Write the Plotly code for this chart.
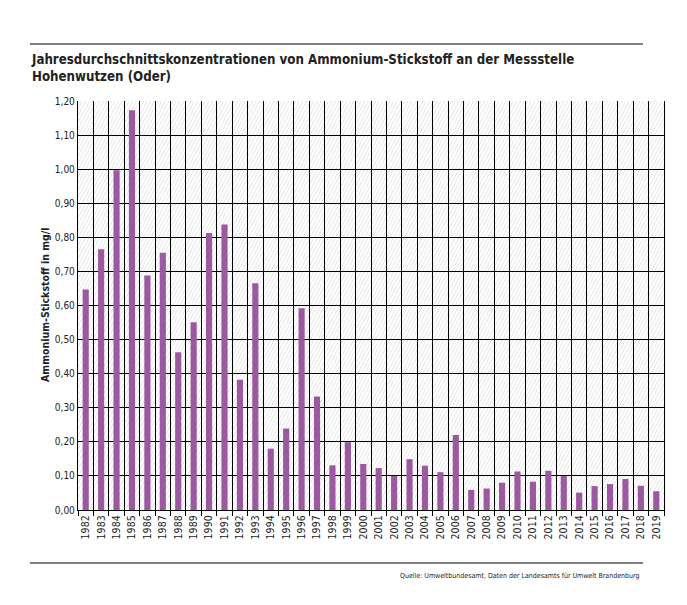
import base64

import plotly.graph_objects as go

years = [str(y) for y in range(1982, 2020)]
nh4_n = [0.647, 0.765, 0.997, 1.173, 0.688, 0.755, 0.463, 0.551, 0.813, 0.838,
         0.382, 0.665, 0.180, 0.239, 0.592, 0.333, 0.131, 0.199, 0.135, 0.123,
         0.100, 0.149, 0.130, 0.111, 0.220, 0.059, 0.063, 0.080, 0.113, 0.083,
         0.115, 0.100, 0.051, 0.070, 0.076, 0.091, 0.071, 0.055]

title = ("Jahresdurchschnittskonzentrationen von Ammonium-Stickstoff an der Messstelle"
         "<br>Hohenwutzen (Oder)")
y_label = "Ammonium-Stickstoff in mg/l"
source = "Quelle: Umweltbundesamt, Daten der Landesamts für Umwelt Brandenburg"

FONT = "DejaVu Sans Condensed, Open Sans, sans-serif"

# page puts the figure 8px in from the window corner
OFF = 8
W, H = 687, 605
# plot area edges, measured in window pixels
X0, X1, Y0, Y1 = 78 - OFF, 664 - OFF, 101 - OFF, 510 - OFF
pw, ph = X1 - X0, Y1 - Y0


def px_x(x):
    return (x - OFF - X0) / pw


def px_y(y):
    return (Y1 - (y - OFF)) / ph


# hatched background of the plot area
svg = (f"<svg xmlns='http://www.w3.org/2000/svg' width='{pw}' height='{ph}'>"
       "<defs><pattern id='h' width='3.2' height='3.2' patternUnits='userSpaceOnUse' "
       "patternTransform='rotate(28)'>"
       "<line x1='0' y1='0' x2='0' y2='3.2' stroke='#d3d3d3' stroke-width='1'/>"
       "</pattern></defs><rect width='100%' height='100%' fill='white'/>"
       "<rect width='100%' height='100%' fill='url(#h)'/></svg>")
hatch = "data:image/svg+xml;base64," + base64.b64encode(svg.encode()).decode()

fig = go.Figure()
fig.add_trace(go.Bar(x=years, y=nh4_n, marker_color="#9b59a0",
                     marker_line_width=0))

fig.add_layout_image(source=hatch, xref="paper", yref="paper", x=0, y=1,
                     sizex=1, sizey=1, xanchor="left", yanchor="top",
                     sizing="stretch", layer="below")

fig.update_layout(
    width=W, height=H,
    margin=dict(l=X0, r=W - X1, t=Y0, b=H - Y1),
    paper_bgcolor="white",
    plot_bgcolor="rgba(0,0,0,0)",
    separators=",.",
    bargap=0.6,
    showlegend=False,
    font=dict(family=FONT, size=10, color="#222222"),
)
fig.update_xaxes(type="category", tickson="boundaries", showgrid=True,
                 gridcolor="black", gridwidth=1.3, ticks="outside", ticklen=5,
                 tickcolor="black", tickwidth=1.3, tickangle=-90,
                 showline=True, linecolor="black", linewidth=1.3,
                 tickfont=dict(size=10.5))
fig.update_yaxes(range=[0, 1.2], dtick=0.1, tickformat=".2f", showgrid=True,
                 gridcolor="black", gridwidth=1.3, showline=True, mirror=True,
                 linecolor="black", linewidth=1.3, zeroline=False,
                 tickfont=dict(size=10))

fig.add_annotation(text=f"<b>{title}</b>", xref="paper", yref="paper",
                   x=px_x(29), y=px_y(50), xanchor="left", yanchor="top",
                   align="left", showarrow=False,
                   font=dict(size=13.2, color="#222222"))
fig.add_annotation(text=f"<b>{y_label}</b>", xref="paper", yref="paper",
                   x=px_x(37), y=px_y(305), textangle=-90, showarrow=False,
                   font=dict(size=10.5, color="#222222"))
fig.add_annotation(text=source, xref="paper", yref="paper", x=px_x(642),
                   y=px_y(576), xanchor="right", yanchor="middle",
                   showarrow=False, font=dict(size=7, color="#222222"))

for y in (44, 563):
    fig.add_shape(type="line", xref="paper", yref="paper", x0=px_x(30),
                  x1=px_x(643), y0=px_y(y), y1=px_y(y),
                  line=dict(color="black", width=1.2))

fig.write_html("out.html")
